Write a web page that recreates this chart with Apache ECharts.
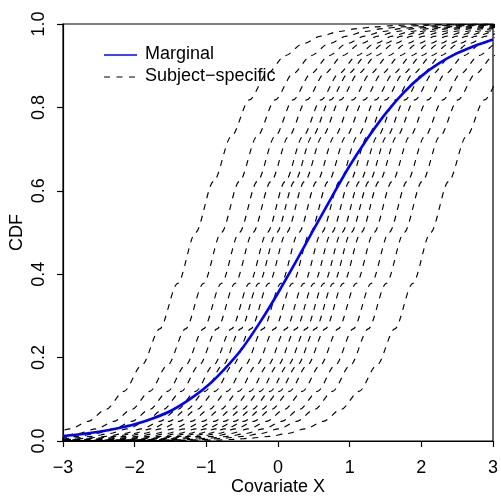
<!DOCTYPE html>
<html>
<head>
<meta charset="utf-8">
<script src="https://cdn.jsdelivr.net/npm/echarts@6/dist/echarts.min.js"></script>
<style>
  html, body { margin: 0; padding: 0; background: #fff; }
  #chart { width: 501px; height: 497px; }
</style>
</head>
<body>
<div id="chart"></div>
<script>
// x ticks and y ticks
const xTicks = [-3, -2, -1, 0, 1, 2, 3];
const yTicks = [0, 0.2, 0.4, 0.6, 0.8, 1.0];

// marginal CDF
const margX = [-3, -2.75, -2.5, -2.25, -2, -1.75, -1.5, -1.25, -1, -0.75, -0.5, -0.25, 0,
               0.25, 0.5, 0.75, 1, 1.25, 1.5, 1.75, 2, 2.25, 2.5, 2.75, 3];
const margY = [0.012, 0.016, 0.022, 0.030, 0.040, 0.054, 0.072, 0.098, 0.130, 0.172, 0.222, 0.285, 0.355,
               0.430, 0.508, 0.585, 0.660, 0.726, 0.785, 0.835, 0.875, 0.906, 0.930, 0.948, 0.963];

// subject-specific curves: where each dashed curve crosses 0.5
const ssMid = [-1.15, -0.79, -0.54, -0.35, -0.15, -0.02, 0.12, 0.29, 0.45,
               0.61, 0.75, 0.89, 1.02, 1.16, 1.34, 1.55, 1.76, 2.13];

// common shape of a dashed curve (read off the leftmost one),
// CDF at offsets -5.5 .. 5.5 (step 0.25) from its 0.5 crossing
const shapeOffset = [-5.5, -5.25, -5, -4.75, -4.5, -4.25, -4, -3.75, -3.5, -3.25, -3, -2.75, -2.5, -2.25,
                     -2, -1.75, -1.5, -1.25, -1, -0.75, -0.5, -0.25, 0, 0.25, 0.5, 0.75, 1, 1.25, 1.5,
                     1.75, 2, 2.25, 2.5, 2.75, 3, 3.25, 3.5, 3.75, 4, 4.25, 4.5, 4.75, 5, 5.25, 5.5];
const shapeY = [0, 0, 0, 0, 0, 0, 0, 0.001, 0.001, 0.002, 0.002, 0.004, 0.007, 0.011,
                0.018, 0.029, 0.047, 0.076, 0.119, 0.182, 0.269, 0.378, 0.5, 0.622, 0.731, 0.818, 0.881, 0.924, 0.953,
                0.971, 0.982, 0.989, 0.993, 0.996, 0.998, 0.998, 0.999, 0.999, 1, 1, 1, 1, 1, 1, 1];

const FONT = 'Liberation Sans, Arial, sans-serif';
const fmt = v => String(v).replace('-', '\u2212');

var myChart = echarts.init(document.getElementById('chart'), null, { renderer: 'canvas' });

const series = ssMid.map(function (m) {
  return {
    name: 'Subject\u2212specific',
    type: 'line',
    data: shapeOffset.map(function (d, i) { return [m + d, shapeY[i]]; }),
    symbol: 'none',
    smooth: 0.3,
    smoothMonotone: 'x',
    clip: true,
    silent: true,
    lineStyle: { color: '#000', width: 1.15, type: [6, 6] },
    z: 2
  };
});
series.push({
  name: 'Marginal',
  type: 'line',
  data: margX.map(function (x, i) { return [x, margY[i]]; }),
  symbol: 'none',
  smooth: 0.3,
  clip: true,
  silent: true,
  lineStyle: { color: '#0000ff', width: 2.6 },
  z: 5
});

const option = {
  animation: false,
  backgroundColor: '#fff',
  grid: {
    left: 63, top: 24, right: 8, bottom: 56,
    containLabel: false, outerBoundsMode: 'none',
    show: true, borderColor: '#000', borderWidth: 1.2, backgroundColor: 'transparent'
  },
  xAxis: {
    type: 'value', min: -3, max: 3, interval: 1,
    name: 'Covariate X', nameLocation: 'middle', nameGap: 37, nameMoveOverlap: false,
    nameTextStyle: { fontFamily: FONT, fontSize: 18, color: '#000' },
    axisLine: { show: true, onZero: false, lineStyle: { color: '#000', width: 1.2 } },
    axisTick: { show: true, length: 6, lineStyle: { color: '#000', width: 1.2 } },
    axisLabel: { fontFamily: FONT, fontSize: 18, color: '#000', margin: 18, formatter: fmt },
    splitLine: { show: false }
  },
  yAxis: {
    type: 'value', min: 0, max: 1, interval: 0.2,
    name: 'CDF', nameLocation: 'middle', nameGap: 37, nameMoveOverlap: false,
    nameTextStyle: { fontFamily: FONT, fontSize: 18, color: '#000' },
    axisLine: { show: true, onZero: false, lineStyle: { color: '#000', width: 1.2 } },
    axisTick: { show: true, length: 6, lineStyle: { color: '#000', width: 1.2 } },
    axisLabel: {
      fontFamily: FONT, fontSize: 18, color: '#000', margin: 15, rotate: 90,
      formatter: function (v) { return v.toFixed(1); }
    },
    splitLine: { show: false }
  },
  graphic: [
    { type: 'line', shape: { x1: 104, y1: 55, x2: 137, y2: 55 },
      style: { stroke: '#0000ff', lineWidth: 1.3 } },
    { type: 'text', left: 145, top: 45,
      style: { text: 'Marginal', font: '18px ' + FONT, fill: '#000' } },
    { type: 'line', shape: { x1: 104, y1: 77, x2: 137, y2: 77 },
      style: { stroke: '#000', lineWidth: 1, lineDash: [6, 6.5] } },
    { type: 'text', left: 145, top: 67,
      style: { text: 'Subject\u2212specific', font: '18px ' + FONT, fill: '#000' } }
  ],
  series: series
};

myChart.setOption(option);
</script>
</body>
</html>
